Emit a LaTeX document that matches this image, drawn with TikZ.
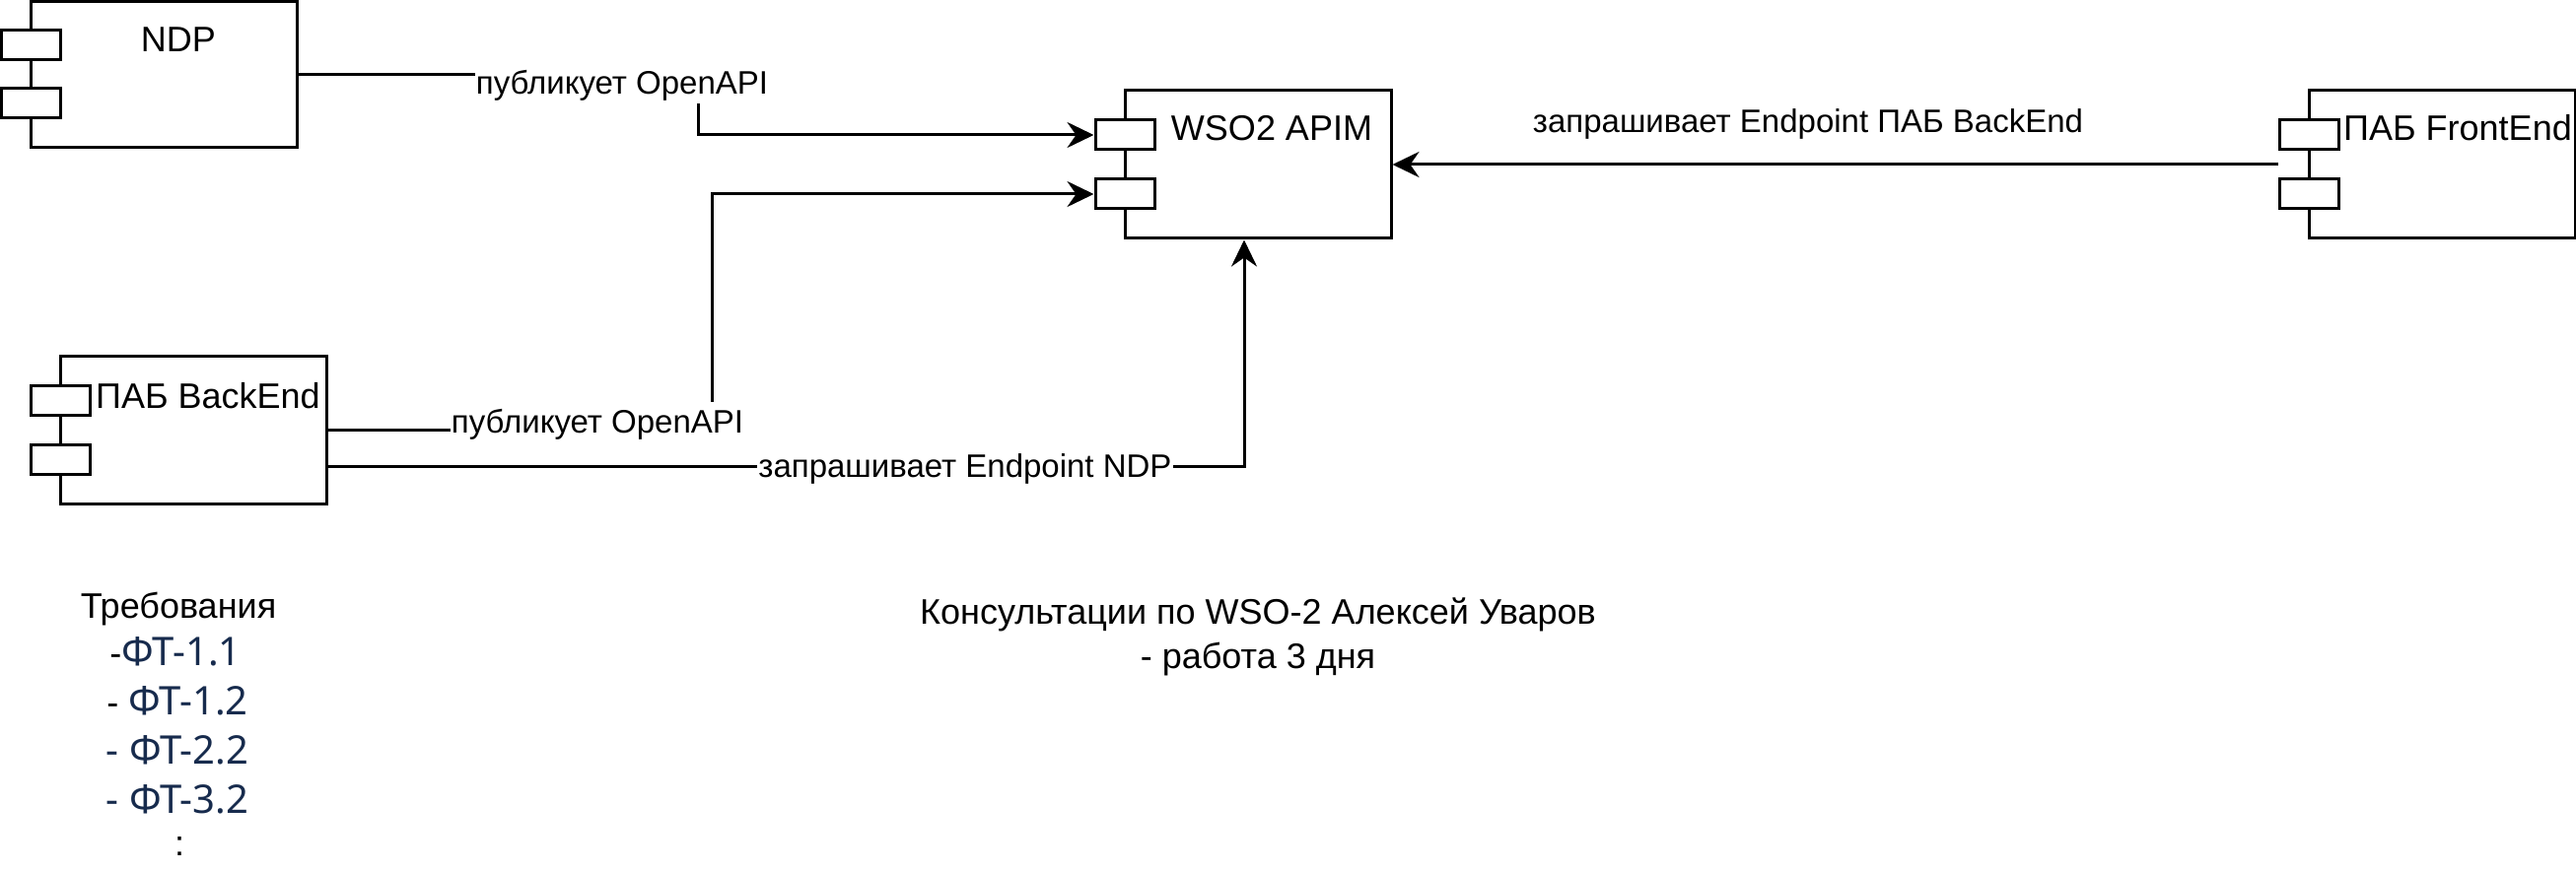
\documentclass[tikz,border=0pt]{standalone}
\usepackage{fontspec}
\setmainfont{Liberation Sans}
\newfontfamily\segoe{Noto Sans}
\usetikzlibrary{arrows.meta}
\definecolor{navy}{HTML}{172B4D}
\begin{document}
\begin{tikzpicture}[x=1pt,y=-1pt,line width=3pt,
  comp/.style={draw,fill=white,minimum width=270pt,minimum height=150pt,inner sep=0pt},
  port/.style={draw,fill=white,minimum width=60pt,minimum height=30pt,inner sep=0pt},
  lbl/.style={font=\fontsize{36}{43}\selectfont,inner sep=0pt},
  elbl/.style={font=\fontsize{33}{40}\selectfont,fill=white,text height=31pt,text depth=9pt,inner xsep=1pt,inner ysep=0pt},
  flbl/.style={font=\fontsize{33}{40}\selectfont,inner sep=0pt},
  reqline/.style={font=\fontsize{40}{48}\segoe,text=navy,inner sep=0pt}]
\tikzset{arr/.style={-{Stealth[length=27pt,width=26pt,inset=9pt]}}}
\useasboundingbox (0,0) rectangle (2613,885);
% components
\node[comp,minimum height=148.5pt] (ndp) at (166,75.75) {};
\node[port] (ndpP1) at (31,46) {};
\node[port] (ndpP2) at (31,105) {};
\node[lbl,anchor=base] (ndpT) at (181,53) {NDP};

\node[comp] (wso) at (1276,167) {};
\node[port] (wsoP1) at (1141,137) {};
\node[port] (wsoP2) at (1141,197) {};
\node[lbl,anchor=base] (wsoT) at (1290,143) {WSO2 APIM};

\node[comp] (be) at (196.5,436.5) {};
\node[port] (beP1) at (61.5,406.5) {};
\node[port] (beP2) at (61.5,466.5) {};
\node[lbl,anchor=base] (beT) at (211,414) {ПАБ BackEnd};

\node[comp] (fe) at (2477,167) {};
\node[port] (feP1) at (2342,137) {};
\node[port] (feP2) at (2342,197) {};
\node[lbl,anchor=base] (feT) at (2493,143) {ПАБ FrontEnd};

% connectors
\draw[arr] (ndp.east) -- ++(406,0) |- (wsoP1.west);
\draw[arr] (be.east) -- ++(389.5,0) |- (wsoP2.west);
\draw[arr] ([yshift=-37pt]be.east) -| ([xshift=-14pt]wso.south);
\draw[arr] (feP1.west |- fe.west) -- (wso.east);

% connector labels
\node[elbl,anchor=base] (l1) at (631,96) {публикует OpenAPI};
\node[elbl,anchor=base] (l2) at (606,439) {публикует OpenAPI};
\node[elbl,anchor=base] (l3) at (979,484) {запрашивает Endpoint NDP};
\node[flbl,anchor=base] (l4) at (1834,135) {запрашивает Endpoint ПАБ BackEnd};

% free texts
\node[lbl,anchor=base,align=center,font=\fontsize{36}{45}\selectfont] (cons) at (1276,678)
  {Консультации по WSO-2 Алексей Уваров\\- работа 3 дня};
\node[lbl,anchor=base] (req) at (181,627) {Требования};
\node[reqline,anchor=base] (req1) at (178,675) {{\fontsize{36}{43}\rmfamily\color{black}-}ФТ-1.1};
\node[reqline,anchor=base] (req2) at (180,725) {{\fontsize{36}{43}\rmfamily\color{black}- }ФТ-1.2};
\node[reqline,anchor=base] (req3) at (180,775) {- ФТ-2.2};
\node[reqline,anchor=base] (req4) at (180,825) {- ФТ-3.2};
\node[lbl,anchor=base] (reqdots) at (182,868) {:};
\end{tikzpicture}
\end{document}
